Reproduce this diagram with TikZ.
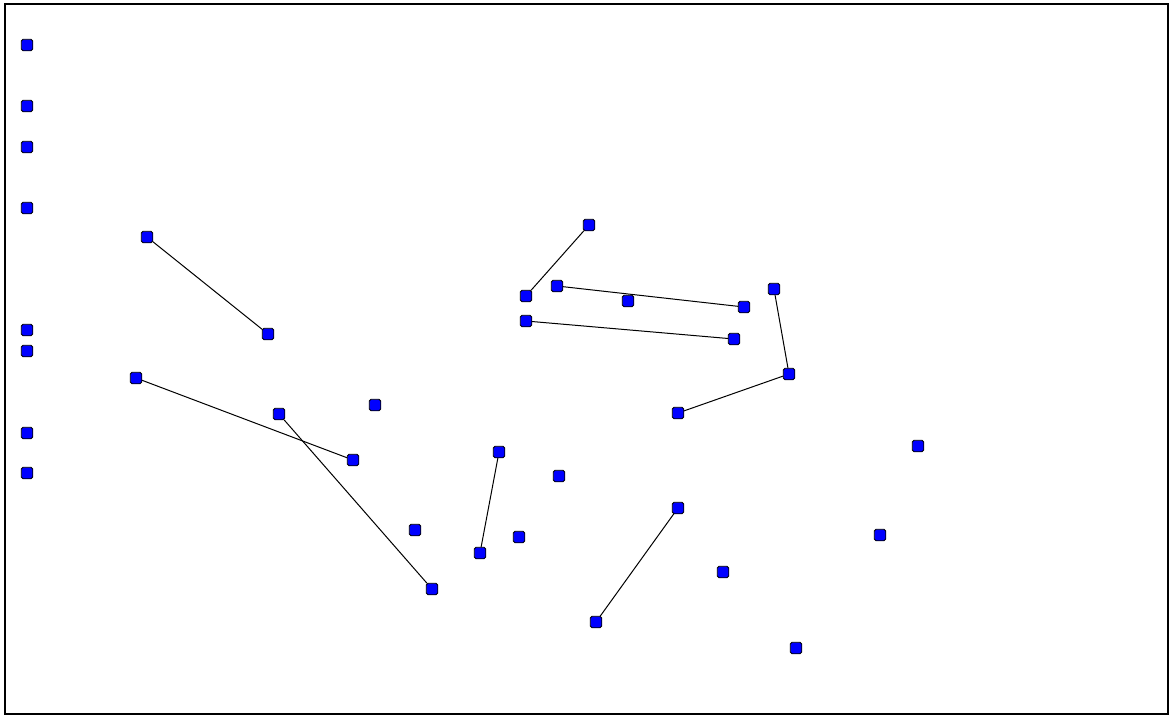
\documentclass[tikz,border=0pt]{standalone}
\usetikzlibrary{backgrounds}
\definecolor{siteblue}{HTML}{0000FF}

\begin{document}
\begin{tikzpicture}[
  x=1pt,
  y=-1pt,
  site/.style={draw=black, fill=siteblue, line width=0.9pt, rounded corners=1.8pt,
               minimum size=11.5pt, inner sep=0pt, outer sep=0pt},
  link/.style={black, line width=1pt},
  frame/.style={black, line width=1.6pt}
]
  % ---- page size and outer frame ---------------------------------------
  \useasboundingbox (0,0) rectangle (1173,715);
  \draw[frame] (5,4) rectangle (1168,714);

  % ---- left column of sites --------------------------------------------
  \foreach \yy [count=\i] in {45,106,147,208,330,351,433,473}
    \node[site] (col\i) at (27,\yy) {};

  % ---- scattered sites -------------------------------------------------
  \node[site] (sa) at (147,237) {};
  \node[site] (sb) at (268,334) {};
  \node[site] (sc) at (136,378) {};
  \node[site] (sd) at (353,460) {};
  \node[site] (se) at (279,414) {};
  \node[site] (sf) at (432,589) {};
  \node[site] (sg) at (375,405) {};
  \node[site] (sh) at (415,530) {};
  \node[site] (si) at (499,452) {};
  \node[site] (sj) at (480,553) {};
  \node[site] (sk) at (519,537) {};
  \node[site] (sl) at (559,476) {};
  \node[site] (sm) at (589,225) {};
  \node[site] (sn) at (526,296) {};
  \node[site] (so) at (557,286) {};
  \node[site] (sp) at (744,307) {};
  \node[site] (sq) at (628,301) {};
  \node[site] (sr) at (526,321) {};
  \node[site] (ss) at (734,339) {};
  \node[site] (st) at (774,289) {};
  \node[site] (su) at (789,374) {};
  \node[site] (sv) at (678,413) {};
  \node[site] (sw) at (678,508) {};
  \node[site] (sx) at (596,622) {};
  \node[site] (sy) at (723,572) {};
  \node[site] (sz) at (796,648) {};
  \node[site] (s1) at (880,535) {};
  \node[site] (s2) at (918,446) {};

  % ---- links, kept under the sites -------------------------------------
  \begin{scope}[on background layer]
    \draw[link] (sa) -- (sb);
    \draw[link] (sc) -- (sd);
    \draw[link] (se) -- (sf);
    \draw[link] (si) -- (sj);
    \draw[link] (sm) -- (sn);
    \draw[link] (so) -- (sp);
    \draw[link] (sr) -- (ss);
    \draw[link] (st) -- (su) -- (sv);
    \draw[link] (sw) -- (sx);
  \end{scope}

\end{tikzpicture}
\end{document}
